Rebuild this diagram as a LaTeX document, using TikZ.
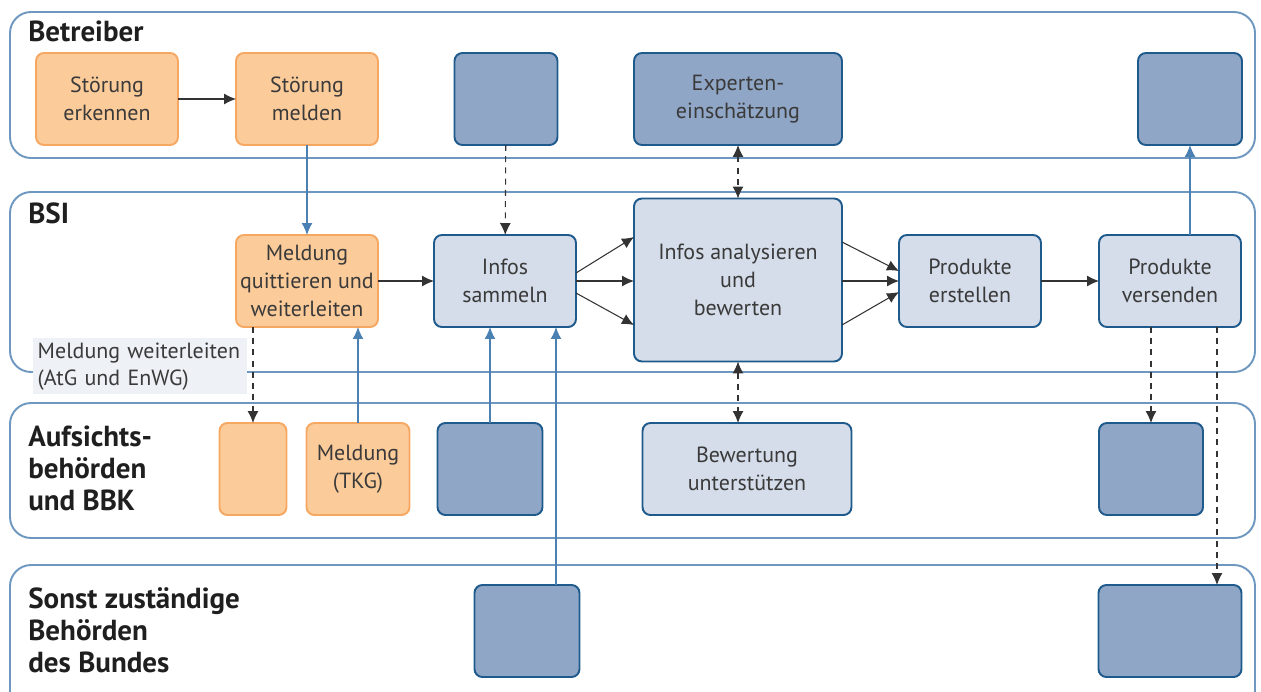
\documentclass[tikz,border=0pt]{standalone}
\usepackage{fontspec}
\setmainfont{PT Sans}
\usetikzlibrary{arrows.meta, positioning, calc}
\definecolor{lanecol}{HTML}{6E98C0}
\definecolor{orfill}{HTML}{FCCB9A}
\definecolor{ordraw}{HTML}{F6A862}
\definecolor{dkfill}{HTML}{8FA6C6}
\definecolor{dkdraw}{HTML}{1F5A8C}
\definecolor{ltfill}{HTML}{D5DDEA}
\definecolor{arrblue}{HTML}{4A80B2}
\definecolor{txtcol}{HTML}{3A3A3A}
\definecolor{notefill}{HTML}{EEF1F6}
\tikzset{
  lane/.style      = {draw=lanecol, line width=1.1pt, rounded corners=12pt},
  lanetitle/.style = {anchor=north west, align=left, inner sep=0pt,
                      font=\fontsize{16.5}{18.2}\selectfont\bfseries, text=black!88},
  task/.style      = {rounded corners=4.5pt, line width=1.1pt, align=center,
                      inner sep=0pt, outer sep=0pt, text=txtcol,
                      font=\fontsize{12.5}{15.9}\selectfont,
                      minimum width=2.84cm, minimum height=1.84cm},
  optask/.style    = {task, draw=ordraw, fill=orfill},
  dktask/.style    = {task, draw=dkdraw, fill=dkfill},
  lttask/.style    = {task, draw=dkdraw, fill=ltfill},
  flow/.style      = {-{Latex[length=2.4mm, width=2.2mm]}, line width=0.6pt, draw=black!80},
  info/.style      = {flow, dash pattern=on 3.4pt off 3pt},
  infoboth/.style  = {info, {Latex[length=2.4mm, width=2.2mm]}-{Latex[length=2.4mm, width=2.2mm]}},
  report/.style    = {-{Latex[length=2.4mm, width=2.2mm]}, line width=0.8pt, draw=arrblue},
  note/.style      = {anchor=north west, fill=notefill, align=left, text=txtcol,
                      font=\fontsize{12.5}{15.3}\selectfont, inner xsep=2.5pt,
                      inner ysep=0pt, text width=4.1cm, minimum height=1.12cm}
}

\begin{document}
\begin{tikzpicture}[x=0.02cm, y=-0.02cm]
\useasboundingbox (0,0) rectangle (1261,691);
% ---- Lanes ----
\draw[lane] (10,12)  rectangle (1255,158);
\draw[lane] (10,192) rectangle (1255,372);
\draw[lane] (10,403) rectangle (1255,538);
\draw[lane] (10,565) rectangle (1255,730);
\node[lanetitle] (tbetr) at (28,21)  {Betreiber};
\node[lanetitle] (tbsi)  at (28,202) {BSI};
\node[lanetitle] (tauf)  at (28,426) {Aufsichts-\\behörden\\und BBK};
\node[lanetitle] (tsons) at (28,587) {Sonst zuständige\\Behörden\\des Bundes};

% ---- Betreiber ----
\node[optask] (erkennen) at (107,99) {Störung\\erkennen};
\node[optask] (melden)   at (307,99) {Störung\\melden};
\node[dktask, minimum width=2.06cm] (betr3) at (506,99) {};
\node[dktask, minimum width=4.16cm] (experten) at (738,99) {Experten-\\einschätzung};
\node[dktask, minimum width=2.08cm] (betr5) at (1190,99) {};

% ---- BSI ----
\node[optask] (quitt) at (307,281) {Meldung\\quittieren und\\weiterleiten};
\node[lttask] (sammeln) at (505,281) {Infos\\sammeln};
\node[lttask, minimum width=4.16cm, minimum height=3.26cm] (analyse) at (738,280)
  {Infos analysieren\\und\\bewerten};
\node[lttask] (erstellen) at (970,281) {Produkte\\erstellen};
\node[lttask] (versenden) at (1170,281) {Produkte\\versenden};
\node[note] (weiter) at (33,338) {Meldung weiterleiten\\(AtG und EnWG)};

% ---- Aufsichtsbehoerden ----
\node[optask, minimum width=1.34cm] (aufs1) at (253,469) {};
\node[optask, minimum width=2.06cm] (tkg) at (358,469) {Meldung\\(TKG)};
\node[dktask, minimum width=2.1cm] (aufs3) at (490,469) {};
\node[lttask, minimum width=4.18cm] (bewertung) at (747,469) {Bewertung\\unterstützen};
\node[dktask, minimum width=2.08cm] (aufs5) at (1151,469) {};

% ---- Sonst zustaendige Behoerden ----
\node[dktask, minimum width=2.1cm] (sons1) at (527,631) {};
\node[dktask, minimum width=2.86cm] (sons2) at (1170,631) {};

% ---- Connectors ----
\draw[flow] (erkennen) -- (melden);
\draw[report] (melden) -- (quitt);
\draw[info] (betr3) -- (sammeln);
\draw[infoboth] (experten) -- (analyse);
\draw[report] (versenden.north -| betr5) -- (betr5);
\draw[flow] (quitt) -- (sammeln);
\draw[flow] ([yshift=0.16cm]sammeln.east) -- ([yshift=0.86cm]analyse.west);
\draw[flow] (sammeln.east) -- (analyse.west |- sammeln.east);
\draw[flow] ([yshift=-0.24cm]sammeln.east) -- ([yshift=-0.9cm]analyse.west);
\draw[flow] ([yshift=0.76cm]analyse.east) -- ([yshift=0.2cm]erstellen.west);
\draw[flow] (analyse.east |- erstellen.west) -- (erstellen.west);
\draw[flow] ([yshift=-0.9cm]analyse.east) -- ([yshift=-0.22cm]erstellen.west);
\draw[flow] (erstellen) -- (versenden);
\draw[info] (aufs1.north |- quitt.south) -- (aufs1);
\draw[report] (tkg) -- (tkg.north |- quitt.south);
\draw[report] (aufs3) -- (aufs3.north |- sammeln.south);
\draw[report] ([xshift=0.58cm]sons1.north) -- ([xshift=0.58cm]sons1.north |- sammeln.south);
\draw[infoboth] (analyse.south) -- (analyse.south |- bewertung.north);
\draw[info] (aufs5.north |- versenden.south) -- (aufs5);
\draw[info] ([xshift=0.94cm]versenden.south) -- ([xshift=0.94cm]versenden.south |- sons2.north);
\end{tikzpicture}
\end{document}
